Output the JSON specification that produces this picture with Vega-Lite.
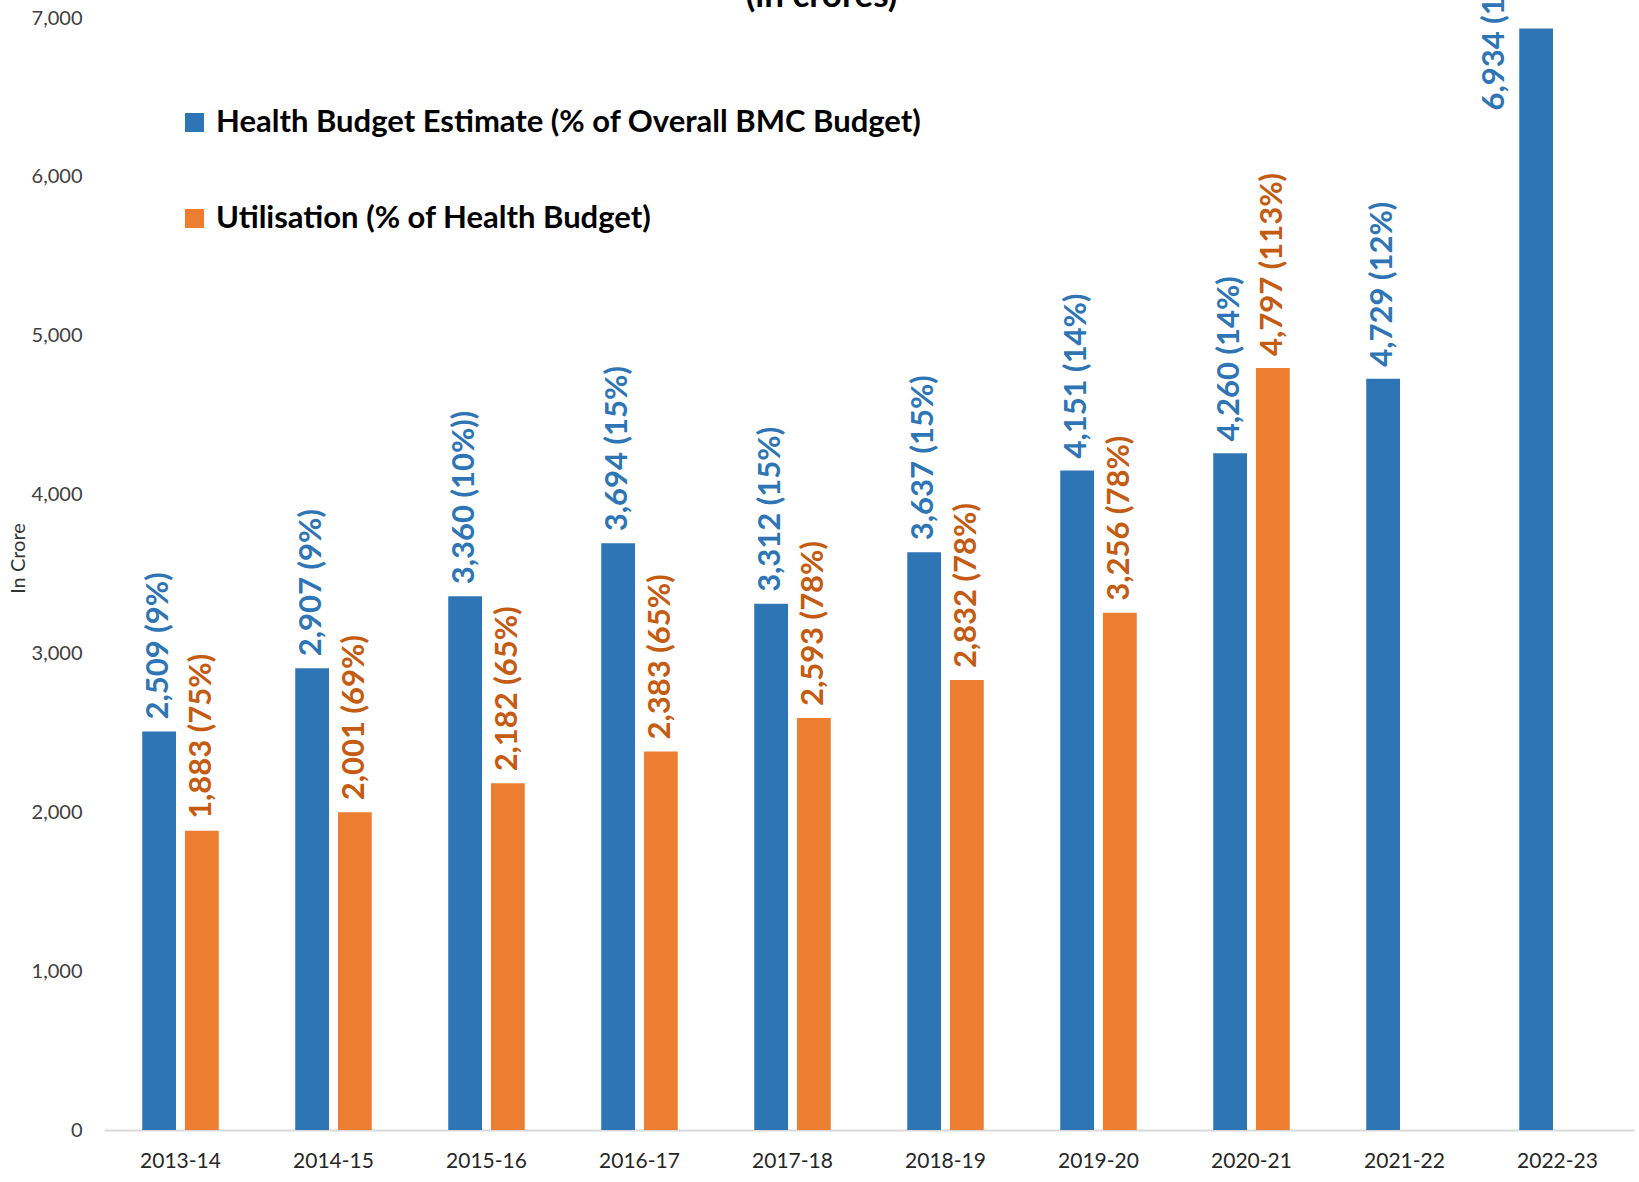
{
  "$schema": "https://vega.github.io/schema/vega-lite/v6.json",
  "width": 1530,
  "height": 1112,
  "autosize": {"type": "none"},
  "padding": {"left": 104, "top": 18, "right": 5, "bottom": 52},
  "background": "white",
  "config": {"view": {"stroke": null}, "font": "Lato"},
  "data": {"values": [
    {"year": "2013-14", "series": "Health Budget Estimate (% of Overall BMC Budget)", "value": 2509, "label": "2,509 (9%)"},
    {"year": "2013-14", "series": "Utilisation (% of Health Budget)", "value": 1883, "label": "1,883 (75%)"},
    {"year": "2014-15", "series": "Health Budget Estimate (% of Overall BMC Budget)", "value": 2907, "label": "2,907 (9%)"},
    {"year": "2014-15", "series": "Utilisation (% of Health Budget)", "value": 2001, "label": "2,001 (69%)"},
    {"year": "2015-16", "series": "Health Budget Estimate (% of Overall BMC Budget)", "value": 3360, "label": "3,360 (10%))"},
    {"year": "2015-16", "series": "Utilisation (% of Health Budget)", "value": 2182, "label": "2,182 (65%)"},
    {"year": "2016-17", "series": "Health Budget Estimate (% of Overall BMC Budget)", "value": 3694, "label": "3,694 (15%)"},
    {"year": "2016-17", "series": "Utilisation (% of Health Budget)", "value": 2383, "label": "2,383 (65%)"},
    {"year": "2017-18", "series": "Health Budget Estimate (% of Overall BMC Budget)", "value": 3312, "label": "3,312 (15%)"},
    {"year": "2017-18", "series": "Utilisation (% of Health Budget)", "value": 2593, "label": "2,593 (78%)"},
    {"year": "2018-19", "series": "Health Budget Estimate (% of Overall BMC Budget)", "value": 3637, "label": "3,637 (15%)"},
    {"year": "2018-19", "series": "Utilisation (% of Health Budget)", "value": 2832, "label": "2,832 (78%)"},
    {"year": "2019-20", "series": "Health Budget Estimate (% of Overall BMC Budget)", "value": 4151, "label": "4,151 (14%)"},
    {"year": "2019-20", "series": "Utilisation (% of Health Budget)", "value": 3256, "label": "3,256 (78%)"},
    {"year": "2020-21", "series": "Health Budget Estimate (% of Overall BMC Budget)", "value": 4260, "label": "4,260 (14%)"},
    {"year": "2020-21", "series": "Utilisation (% of Health Budget)", "value": 4797, "label": "4,797 (113%)"},
    {"year": "2021-22", "series": "Health Budget Estimate (% of Overall BMC Budget)", "value": 4729, "label": "4,729 (12%)"},
    {"year": "2022-23", "series": "Health Budget Estimate (% of Overall BMC Budget)", "value": 6934, "label": "6,934 (15%)"}
  ]},
  "encoding": {
    "x": {
      "field": "year", "type": "nominal", "sort": null,
      "scale": {"paddingInner": 0.5, "paddingOuter": 0.25},
      "axis": {"title": null, "labelAngle": 0, "ticks": false, "domainColor": "#D9D9D9", "domainWidth": 2, "labelFont": "Lato", "labelFontSize": 21, "labelPadding": 20, "labelColor": "#262626"}
    },
    "y": {
      "field": "value", "type": "quantitative",
      "scale": {"domain": [0, 7000], "nice": false},
      "axis": {"title": "In Crore", "titleFont": "Lato", "titleFontSize": 20, "titleFontWeight": "normal", "titleColor": "#333333", "titleX": -86, "titleY": 540, "titleAngle": 270, "titleBaseline": "middle", "titleAlign": "center", "values": [0, 1000, 2000, 3000, 4000, 5000, 6000, 7000], "format": ",d", "labelFont": "Lato", "labelFontSize": 20, "labelPadding": 22, "labelColor": "#404040", "ticks": false, "domain": false, "grid": false}
    }
  },
  "layer": [
    {
      "mark": {"type": "bar"},
      "encoding": {
        "xOffset": {
          "field": "series", "type": "nominal",
          "scale": {"domain": ["Health Budget Estimate (% of Overall BMC Budget)", "Utilisation (% of Health Budget)"], "paddingInner": 0.21, "paddingOuter": 0}
        },
        "color": {
          "field": "series", "type": "nominal",
          "scale": {"domain": ["Health Budget Estimate (% of Overall BMC Budget)", "Utilisation (% of Health Budget)"], "range": ["#2E75B6", "#ED7D31"]},
          "legend": {"orient": "none", "legendX": 75, "legendY": 89, "title": null, "symbolType": "square", "symbolSize": 361, "symbolStrokeWidth": 0, "labelFont": "Lato", "labelFontSize": 31, "labelFontWeight": "bold", "labelColor": "#000000", "rowPadding": 64, "labelOffset": 6, "labelLimit": 1200}
        }
      }
    },
    {
      "transform": [{"filter": "datum.year !== '2022-23'"}],
      "mark": {"type": "text", "angle": 270, "align": "left", "baseline": "middle", "dx": 12, "font": "Lato", "fontWeight": "bold", "fontSize": 31},
      "encoding": {
        "xOffset": {"field": "series", "type": "nominal"},
        "text": {"field": "label"},
        "color": {
          "field": "series", "type": "nominal",
          "scale": {"domain": ["Health Budget Estimate (% of Overall BMC Budget)", "Utilisation (% of Health Budget)"], "range": ["#2E75B6", "#C55A11"]},
          "legend": null
        }
      }
    },
    {
      "transform": [{"filter": "datum.year === '2022-23'"}],
      "mark": {"type": "text", "angle": 270, "align": "left", "baseline": "middle", "dx": -82, "dy": -41, "font": "Lato", "fontWeight": "bold", "fontSize": 31, "color": "#2E75B6"},
      "encoding": {
        "xOffset": {"field": "series", "type": "nominal"},
        "text": {"field": "label"}
      }
    },
    {
      "transform": [{"filter": "datum.year === '2017-18' && datum.value === 3312"}],
      "mark": {"type": "text", "align": "center", "baseline": "alphabetic", "dx": 29, "dy": -11, "font": "Lato", "fontWeight": "bold", "fontSize": 35, "color": "#000000", "text": "(in crores)"},
      "encoding": {
        "y": {"datum": 7000}
      }
    }
  ],
  "resolve": {"scale": {"color": "independent"}}
}
